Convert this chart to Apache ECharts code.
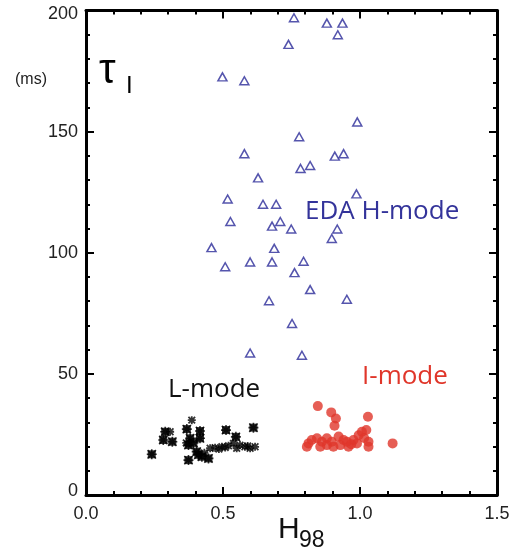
<!DOCTYPE html>
<html><head><meta charset="utf-8">
<script src="https://cdn.jsdelivr.net/npm/echarts@6/dist/echarts.min.js"></script>
<style>html,body{margin:0;padding:0;background:#fff}#c{width:513px;height:552px}</style>
</head><body><div id="c"></div>
<script>
const xTickLabels = ['0.0','0.5','1.0','1.5'];
const yTickLabels = ['0','50','100','150','200'];

const edaHmode = [
  [0.759,197.0],[0.879,194.8],[0.936,194.8],[0.919,190.0],[0.739,186.0],
  [0.498,172.6],[0.578,171.0],[0.990,154.0],[0.778,147.9],[0.578,140.9],
  [0.908,139.9],[0.940,140.9],[0.783,134.8],[0.818,136.0],[0.628,130.9],
  [0.987,124.3],[0.517,122.2],[0.646,120.0],[0.694,120.0],[0.527,112.9],
  [0.679,111.0],[0.709,112.9],[0.749,109.8],[0.917,109.8],[0.897,105.9],
  [0.458,102.1],[0.687,101.8],[0.508,94.2],[0.599,96.2],[0.679,96.2],
  [0.794,96.5],[0.761,91.8],[0.818,84.8],[0.668,80.2],[0.952,80.8],
  [0.752,70.8],[0.599,58.6],[0.788,57.7]
];

const lModeSquares = [
  [0.240,16.8],[0.282,22.7],[0.289,26.1],[0.315,22.0],[0.368,27.2],
  [0.416,26.4],[0.416,23.4],[0.380,23.4],[0.374,20.6],[0.404,17.9],
  [0.374,14.4],[0.423,15.8],[0.447,15.1],[0.511,26.8],[0.547,24.0],
  [0.611,27.8],[0.392,21.5],[0.410,16.6]
];
const lModeStars = [
  [0.307,26.1],[0.386,30.9],[0.366,21.5],[0.453,19.3],[0.471,19.5],
  [0.496,19.9],[0.520,20.3],[0.538,21.3],[0.562,20.6],[0.580,19.9],
  [0.599,19.3],[0.617,19.9],[0.550,19.3],[0.485,19.0],[0.432,17.4],
  [0.508,19.6],[0.590,20.2]
];

const iMode = [
  [0.846,36.7],[0.895,34.1],[0.912,31.6],[0.907,28.6],[1.029,32.3],
  [1.023,26.8],[1.119,21.3],[0.806,19.9],[0.824,22.7],[0.843,23.4],
  [0.861,22.0],[0.879,20.6],[0.879,23.4],[0.897,22.0],[0.922,24.1],
  [0.940,22.7],[0.958,19.9],[0.976,22.7],[0.995,24.7],[1.007,26.1],
  [1.031,22.0],[1.031,19.9],[0.989,21.3],[0.928,20.6],[0.855,19.9],
  [0.812,21.3],[0.903,19.9],[0.952,22.0],[0.968,21.0],[1.015,23.5]
];

const chart = echarts.init(document.getElementById('c'));
const axisLine = {show:true, onZero:false, lineStyle:{color:'#000', width:3}};
const tickStyle = {color:'#000', width:2};
const font = 'Liberation Sans';
const star = 'path://M0,0L10,10M10,0L0,10M5,-1L5,11M-1,5L11,5';

chart.setOption({
  animation:false,
  backgroundColor:'#fff',
  grid:{left:86, right:16, top:10.5, bottom:57, containLabel:false},
  xAxis:[
    {type:'value', min:0, max:1.5, interval:0.5, position:'bottom',
     axisLine, splitLine:{show:false},
     axisTick:{show:true, inside:true, length:8, lineStyle:tickStyle},
     minorTick:{show:true, splitNumber:5, length:4, lineStyle:tickStyle},
     axisLabel:{show:true, margin:10, fontSize:18, fontFamily:font, color:'#222',
       formatter:(v)=>xTickLabels[Math.round(v/0.5)]}},
    {type:'value', min:0, max:1.5, interval:0.5, position:'top',
     axisLine, splitLine:{show:false},
     axisTick:{show:true, inside:true, length:8, lineStyle:tickStyle},
     minorTick:{show:true, splitNumber:5, length:4, lineStyle:tickStyle},
     axisLabel:{show:false}}
  ],
  yAxis:[
    {type:'value', min:0, max:200, interval:50, position:'left',
     axisLine, splitLine:{show:false},
     axisTick:{show:true, inside:true, length:8, lineStyle:tickStyle},
     minorTick:{show:true, splitNumber:5, length:4, lineStyle:tickStyle},
     axisLabel:{show:true, margin:8, fontSize:18, fontFamily:font, color:'#222',
       formatter:(v)=>{
         const t = yTickLabels[Math.round(v/50)];
         if (v===0) return '{lo|'+t+'}';
         if (v===200) return '{hi|'+t+'}';
         return t;
       },
       rich:{lo:{fontSize:18,fontFamily:font,color:'#222',padding:[0,0,8,0]},
             hi:{fontSize:18,fontFamily:font,color:'#222',padding:[8,0,0,0]}}}},
    {type:'value', min:0, max:200, interval:50, position:'right',
     axisLine, splitLine:{show:false},
     axisTick:{show:true, inside:true, length:8, lineStyle:tickStyle},
     minorTick:{show:true, splitNumber:5, length:4, lineStyle:tickStyle},
     axisLabel:{show:false}}
  ],
  series:[
    {name:'EDA H-mode', type:'scatter', data:edaHmode, symbol:'triangle', symbolSize:[9,8],
     itemStyle:{color:'#fff', borderColor:'#2a2a98', borderWidth:1.5}},
    {name:'L-mode squares', type:'scatter', data:lModeSquares, symbol:'rect', symbolSize:8,
     itemStyle:{color:'#000'}},
    {name:'L-mode stars', type:'scatter', data:lModeStars, symbol:star, symbolSize:8,
     itemStyle:{color:'none', borderColor:'#000', borderWidth:1.8}},
    {name:'L-mode squares x', type:'scatter', data:lModeSquares, symbol:star, symbolSize:10,
     itemStyle:{color:'none', borderColor:'#000', borderWidth:1.6}},
    {name:'I-mode', type:'scatter', data:iMode, symbol:'circle', symbolSize:10,
     itemStyle:{color:'#e0362a'}}
  ],
  graphic:[
    {type:'text', left:305, top:199, style:{text:'EDA H-mode', font:'26px "Open Sans"', fill:'#33339a'}},
    {type:'text', left:362, top:364, style:{text:'I-mode', font:'26px "Open Sans"', fill:'#e0362a'}},
    {type:'text', left:168, top:377, style:{text:'L-mode', font:'26px "Open Sans"', fill:'#111'}},
    {type:'text', left:99, top:50, style:{text:'τ', font:'42px "Liberation Sans"', fill:'#000'}},
    {type:'text', left:126, top:74, style:{text:'I', font:'24px "Liberation Sans"', fill:'#000'}},
    {type:'text', left:15, top:72, style:{text:'(ms)', font:'16px "Liberation Sans"', fill:'#222'}},
    {type:'text', left:278, top:515, style:{text:'H', font:'30px "Liberation Sans"', fill:'#111'}},
    {type:'text', left:299, top:529, style:{text:'98', font:'23px "Liberation Sans"', fill:'#111'}}
  ]
});
</script></body></html>
